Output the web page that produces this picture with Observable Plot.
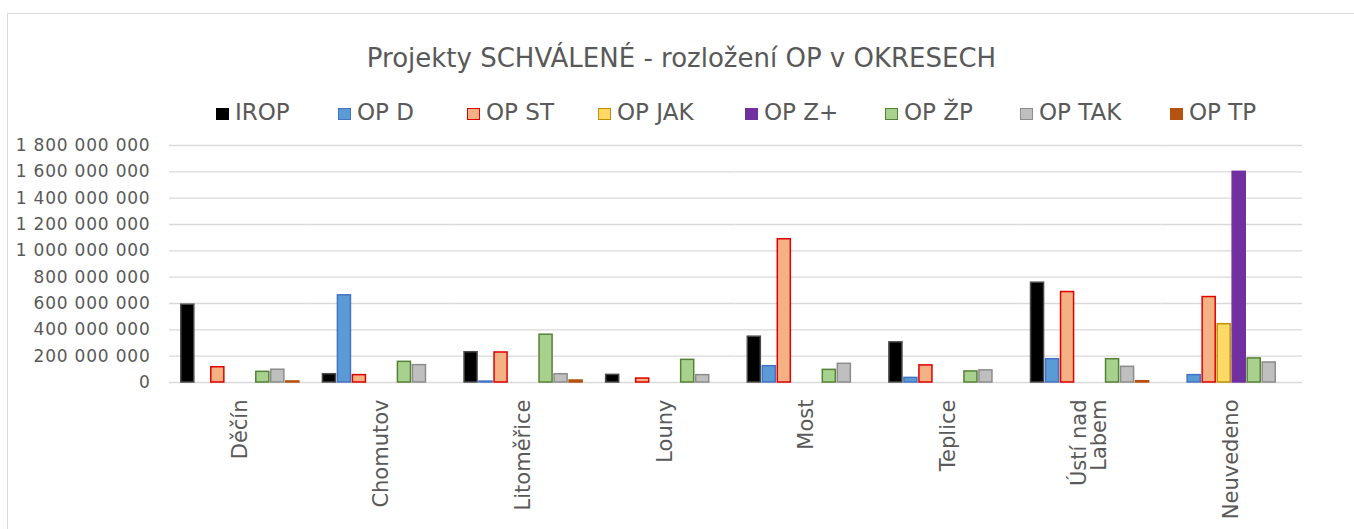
<!DOCTYPE html>
<html>
<head>
<meta charset="utf-8">
<script src="https://cdn.jsdelivr.net/npm/d3@7"></script>
<script src="https://cdn.jsdelivr.net/npm/@observablehq/plot@0.6"></script>
<style>
  html, body { margin: 0; padding: 0; background: #fff; overflow: hidden; }
  #root { position: relative; width: 1354px; height: 529px; overflow: hidden; font-family: "DejaVu Sans", sans-serif; color: #595959; }
  #frame { position: absolute; left: 7px; top: 13px; width: 1400px; height: 600px; border: 1px solid #d9d9d9; box-sizing: border-box; }
  #title { position: absolute; left: 0; width: 1363px; top: 43px; text-align: center; font-size: 26px; line-height: 30px; white-space: nowrap; }
  #legend { position: absolute; left: 0; top: 0; }
  .li { position: absolute; top: 99px; height: 26px; display: flex; align-items: center; white-space: nowrap; font-size: 23px; line-height: 26px; }
  .sw { width: 13px; height: 12px; box-sizing: border-box; margin-right: 6px; margin-top: 3px; }
  #chart { position: absolute; left: 0; top: 130px; }
  g[aria-label="y-axis tick label"] text { letter-spacing: 0.8px; }
</style>
</head>
<body>
<div id="root">
  <div id="frame"></div>
  <div id="title"></div>
  <div id="legend"></div>
  <div id="chart"></div>
</div>
<script>
// ---- data (values in CZK) ----
const chartTitle = "Projekty SCHVÁLENÉ - rozložení OP v OKRESECH";
const districts = ["Děčín", "Chomutov", "Litoměřice", "Louny", "Most", "Teplice", "Ústí nad\nLabem", "Neuvedeno"];
const seriesNames = ["IROP", "OP D", "OP ST", "OP JAK", "OP Z+", "OP ŽP", "OP TAK", "OP TP"];
const IROP   = [591e6,  63e6, 230e6,  58e6,  348e6, 305e6, 758e6,    0];
const OP_D   = [    0, 662e6,   7e6,     0,  124e6,  35e6, 177e6,  56e6];
const OP_ST  = [116e6,  56e6, 228e6,  30e6, 1088e6, 130e6, 687e6, 649e6];
const OP_JAK = [    0,     0,     0,     0,      0,     0,     0, 443e6];
const OP_Z   = [    0,     0,     0,     0,      0,     0,     0, 1600e6];
const OP_ZP  = [ 81e6, 157e6, 363e6, 172e6,   96e6,  84e6, 177e6, 183e6];
const OP_TAK = [ 97e6, 132e6,  63e6,  56e6,  142e6,  92e6, 119e6, 152e6];
const OP_TP  = [  8e6,     0,  15e6,     0,      0,     0,  10e6,     0];
const yTicks = [0, 2e8, 4e8, 6e8, 8e8, 10e8, 12e8, 14e8, 16e8, 18e8];

// ---- styles ----
const seriesValues = [IROP, OP_D, OP_ST, OP_JAK, OP_Z, OP_ZP, OP_TAK, OP_TP];
const fills   = {"IROP":"#000000","OP D":"#5b9bd5","OP ST":"#f4b183","OP JAK":"#ffd966","OP Z+":"#7030a0","OP ŽP":"#a9d18e","OP TAK":"#bfbfbf","OP TP":"#b5520f"};
const strokes = {"IROP":"#4a4a4a","OP D":"#4472c4","OP ST":"#e00000","OP JAK":"#c09000","OP Z+":"#7030a0","OP ŽP":"#548235","OP TAK":"#8c8c8c","OP TP":"#b5520f"};
const legendX = [216, 338, 467, 598, 745, 885, 1020, 1170];

const rows = [];
seriesNames.forEach((s, i) => {
  districts.forEach((d, j) => {
    const v = seriesValues[i][j];
    if (v > 0) rows.push({district: d, series: s, value: v});
  });
});

document.getElementById("title").textContent = chartTitle;
const legend = document.getElementById("legend");
seriesNames.forEach((s, i) => {
  const item = document.createElement("div");
  item.className = "li";
  item.style.left = legendX[i] + "px";
  const sw = document.createElement("div");
  sw.className = "sw";
  sw.style.background = fills[s];
  sw.style.border = (s === "IROP" || s === "OP Z+" || s === "OP TP") ? "none" : ("1.5px solid " + strokes[s]);
  const tx = document.createElement("span");
  tx.textContent = s;
  item.appendChild(sw); item.appendChild(tx);
  legend.appendChild(item);
});

const fmt = d3.formatLocale({decimal: ",", thousands: " ", grouping: [3], currency: ["", ""]}).format(",d");

const plot = Plot.plot({
  width: 1354,
  height: 399,
  marginTop: 15,
  marginLeft: 169,
  marginRight: 52,
  marginBottom: 147,
  style: {fontFamily: "DejaVu Sans, sans-serif", color: "#595959", background: "transparent"},
  fx: {domain: districts, paddingInner: 0, paddingOuter: 0, round: false},
  x: {domain: seriesNames, paddingInner: 0.13, paddingOuter: 0.785, round: false, axis: null},
  y: {domain: [0, 1.8e9], axis: null},
  marks: [
    Plot.gridY(yTicks, {stroke: "#d9d9d9", strokeOpacity: 1, strokeWidth: 1.4}),
    Plot.axisY(yTicks, {tickSize: 0, tickPadding: 19, tickFormat: fmt, fontSize: 17, fill: "#595959", label: null}),
    Plot.axisFx({anchor: "bottom", tickRotate: -90, tickSize: 0, tickPadding: 17, fontSize: 21, fill: "#595959", label: null, lineHeight: 0.95}),
    Plot.barY(rows, {
      fx: "district", x: "series", y: "value",
      fill: d => fills[d.series],
      stroke: d => strokes[d.series],
      strokeWidth: 1.5
    })
  ]
});
document.getElementById("chart").appendChild(plot);
</script>
</body>
</html>
